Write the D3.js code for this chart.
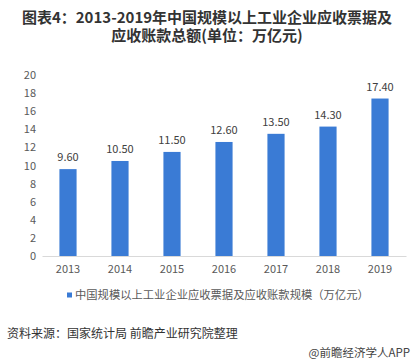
<!DOCTYPE html>
<html><head><meta charset="utf-8">
<script src="https://cdn.jsdelivr.net/npm/d3@7/dist/d3.min.js"></script>
<style>body{margin:0;background:#fff;}svg{display:block;}</style>
</head><body>
<svg id="c" width="414" height="364"></svg>
<script>
const years = ["2013","2014","2015","2016","2017","2018","2019"];
const values = [9.60,10.50,11.50,12.60,13.50,14.30,17.40];
const yTicks = [0,2,4,6,8,10,12,14,16,18,20];
const titleLines = ["图表4：2013-2019年中国规模以上工业企业应收票据及","应收账款总额(单位：万亿元)"];
const legendLabel = "中国规模以上工业企业应收票据及应收账款规模（万亿元）";
const sourceText = "资料来源：国家统计局 前瞻产业研究院整理";
const brandText = "@前瞻经济学人APP";

const svg = d3.select("#c");
const font = "'Microsoft YaHei','Noto Sans CJK SC',sans-serif";
const barColor = "#3a7bd5";

svg.selectAll("text.title").data(titleLines).join("text")
  .attr("x", 207).attr("y", (d,i)=>23+i*18)
  .attr("text-anchor","middle").attr("font-family",font)
  .attr("font-size",15).attr("font-weight","bold").attr("fill","#333")
  .text(d=>d);

const x = d3.scaleBand().domain(years).range([42,406]).paddingInner(0.67).paddingOuter(0.335);
const y = d3.scaleLinear().domain([0,20]).range([256,75]);

const yAxis = svg.append("g").attr("transform","translate(42,0)")
  .call(d3.axisLeft(y).tickValues(yTicks).tickSize(0).tickPadding(6));
yAxis.select(".domain").remove();
yAxis.selectAll("text").attr("font-family",font).attr("font-size",11).attr("fill","#595959");

const xAxis = svg.append("g").attr("transform","translate(0,256)")
  .call(d3.axisBottom(x).tickSize(0).tickPadding(9));
xAxis.select(".domain").attr("stroke","#d9d9d9");
xAxis.selectAll("text").attr("font-family",font).attr("font-size",11).attr("fill","#595959");

svg.selectAll("rect.bar").data(values).join("rect")
  .attr("x",(d,i)=>x(years[i])).attr("width",x.bandwidth())
  .attr("y",d=>y(d)).attr("height",d=>y(0)-y(d)).attr("fill",barColor);

svg.selectAll("text.val").data(values).join("text")
  .attr("x",(d,i)=>x(years[i])+x.bandwidth()/2).attr("y",d=>y(d)-8)
  .attr("text-anchor","middle").attr("font-family",font).attr("font-size",11).attr("fill","#404040")
  .text(d=>d.toFixed(2));

const lg = svg.append("g");
lg.append("rect").attr("x",67).attr("y",292.5).attr("width",5).attr("height",5).attr("fill",barColor);
lg.append("text").attr("x",75).attr("y",299).attr("font-family",font).attr("font-size",11.3).attr("fill","#595959").text(legendLabel);

svg.append("text").attr("x",7).attr("y",338).attr("font-family",font).attr("font-size",12).attr("fill","#333").text(sourceText);
svg.append("text").attr("x",410).attr("y",357).attr("text-anchor","end").attr("font-family",font).attr("font-size",11.5).attr("fill","#444").text(brandText);
</script>
</body></html>
